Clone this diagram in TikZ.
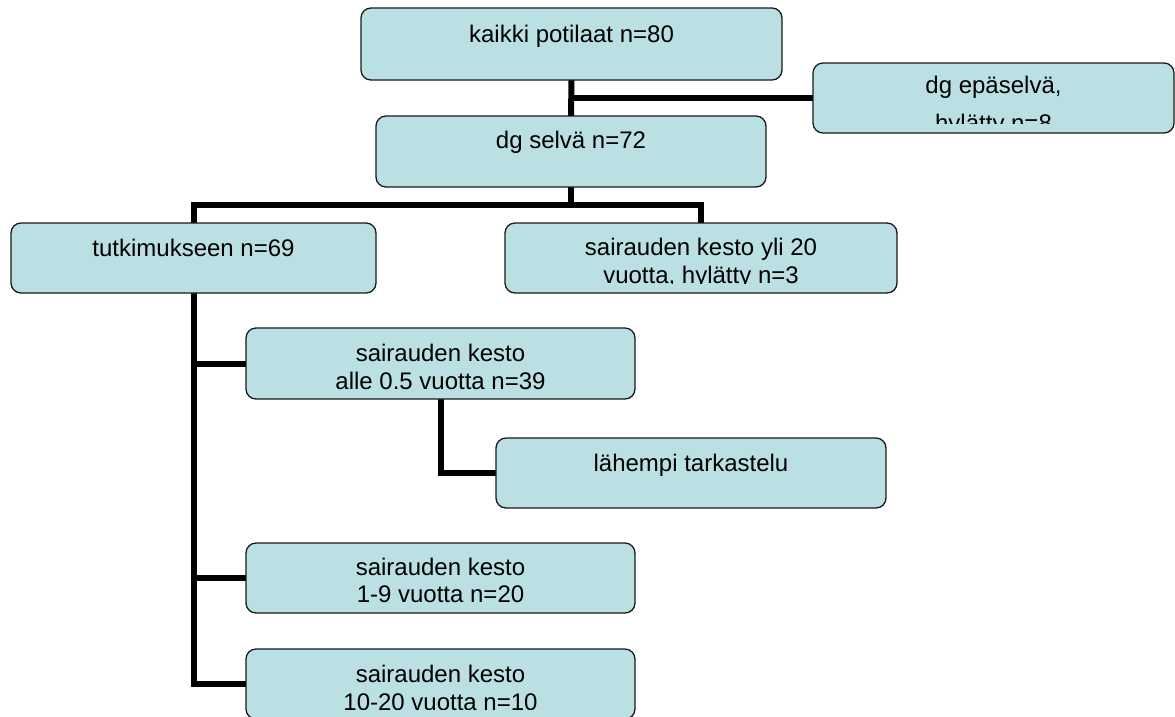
\documentclass[tikz,border=0pt]{standalone}
\usepackage{fontspec}
\setmainfont{Liberation Sans}
\usetikzlibrary{backgrounds}
\definecolor{boxfill}{RGB}{187,224,227}
\definecolor{boxline}{RGB}{25,25,25}

\tikzset{
  chartbox/.style={draw=boxline, fill=boxfill, line width=1.3pt,
    rounded corners=10pt, inner sep=0pt, outer sep=0pt},
  boxtext/.style={anchor=base, align=center, inner sep=0pt, text=black,
    font=\fontsize{24}{27.5}\selectfont},
  link/.style={draw=black, line width=6pt, line join=miter, line cap=rect}
}

% box text: #2 is the depth of the last baseline below the box top;
% the text is cut off a little above the bottom edge
\newcommand\chartlabel[3]{%
  \begin{scope}
    \clip (#1.north west) rectangle ([yshift=10pt]#1.south east);
    \node[boxtext] (#1-text) at ([yshift=-#2pt]#1.north) {#3};
  \end{scope}}

\begin{document}
\begin{tikzpicture}[x=1pt, y=1pt]
\useasboundingbox (0,0) rectangle (1175,-716);

% boxes
\node[chartbox, minimum width=421, minimum height=72] (all)   at (571.5,-44)  {};
\node[chartbox, minimum width=361, minimum height=70] (unclr) at (993.5,-98)  {};
\node[chartbox, minimum width=390, minimum height=71] (clear) at (571,-151.5)  {};
\node[chartbox, minimum width=365, minimum height=70] (study) at (193.5,-258)  {};
\node[chartbox, minimum width=392, minimum height=70] (over)  at (701,-258)    {};
\node[chartbox, minimum width=389, minimum height=71] (short) at (440.5,-363.5) {};
\node[chartbox, minimum width=390, minimum height=70] (close) at (691,-473)    {};
\node[chartbox, minimum width=389, minimum height=70] (mid)   at (440.5,-578)  {};
\node[chartbox, minimum width=389, minimum height=70] (long)  at (440.5,-684)  {};

% texts
\chartlabel{all}{34}{kaikki potilaat n=80}
\chartlabel{unclr}{68}{dg epäselvä,\\[10.5pt]hylätty n=8}
\chartlabel{clear}{32}{dg selvä n=72}
\chartlabel{study}{33}{tutkimukseen n=69}
\chartlabel{over}{60}{sairauden kesto yli 20\\vuotta, hylätty n=3}
\chartlabel{short}{61}{sairauden kesto\\alle 0.5 vuotta n=39}
\chartlabel{close}{33}{lähempi tarkastelu}
\chartlabel{mid}{59.5}{sairauden kesto\\1-9 vuotta n=20}
\chartlabel{long}{61}{sairauden kesto\\10-20 vuotta n=10}

% connectors
\coordinate (bar) at (0,-205);
\begin{scope}[on background layer]
  \draw[link] (all.south) -- (clear.north);
  \draw[link] (all.south |- unclr.west) -- (unclr.west);
  \draw[link] (clear.south) -- (clear.south |- bar);
  \draw[link] (study.north) -- (study.north |- bar) -- (over.north |- bar) -- (over.north);
  \draw[link] (study.south) |- (long.west);
  \draw[link] (study.south |- short.west) -- (short.west);
  \draw[link] (study.south |- mid.west) -- (mid.west);
  \draw[link] (short.south) |- (close.west);
\end{scope}
\end{tikzpicture}
\end{document}
